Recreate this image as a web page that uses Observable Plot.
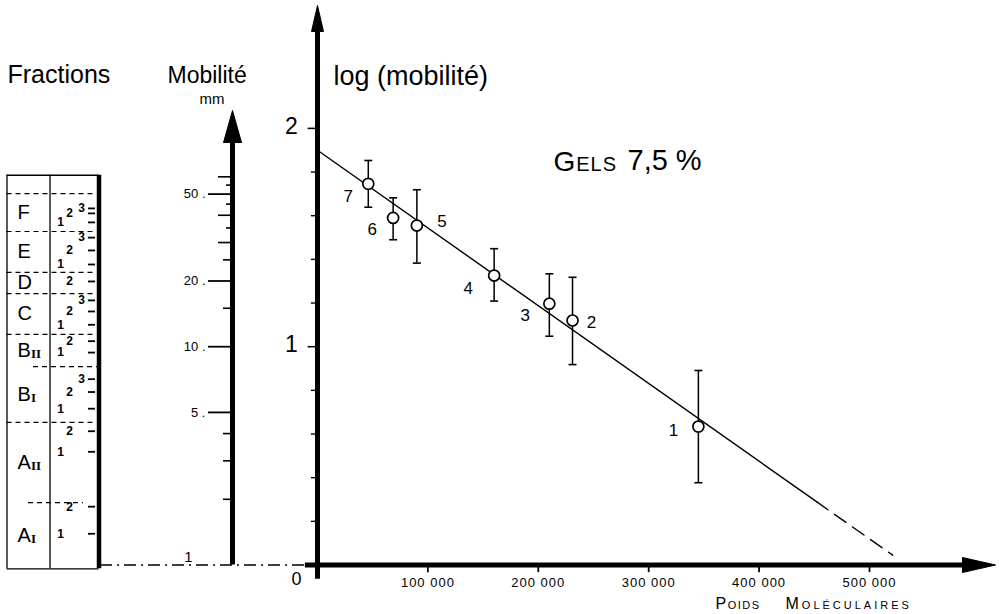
<!DOCTYPE html>
<html><head><meta charset="utf-8">
<script src="https://cdn.jsdelivr.net/npm/d3@7"></script>
<script src="https://cdn.jsdelivr.net/npm/@observablehq/plot@0.6"></script>
<style>
html,body{margin:0;padding:0;background:#fff;}
#fig{position:relative;width:1005px;height:614px;overflow:hidden;background:#fff;}
#fig svg{position:absolute;left:0;top:0;}
</style></head><body><div id="fig"></div>
<script>
// ================= DATA =================
// Main chart: molecular weight vs log(mobility), gels 7.5 %
const pointLabels = ["7", "6", "5", "4", "3", "2", "1"];
const molWeight = [46000, 68500, 90000, 160000, 210000, 231000, 345000];
const logMobility = [1.746, 1.590, 1.555, 1.326, 1.197, 1.120, 0.634];
const logMobilityHigh = [1.853, 1.682, 1.719, 1.449, 1.334, 1.318, 0.891];
const logMobilityLow = [1.639, 1.490, 1.383, 1.209, 1.048, 0.918, 0.377];
// fitted straight line (solid part, then dashed extrapolation)
const fitMW = [0, 452000, 521000];
const fitLog = [1.90, 0.29, 0.045];
const xTicks = [100000, 200000, 300000, 400000, 500000];
const xTickLabels = ["100 000", "200 000", "300 000", "400 000", "500 000"];
const yMajorTicks = [1, 2];
const yTickLabels = ["1", "2"];
const yMinorTicks = [0.2, 0.4, 0.6, 0.8, 1.2, 1.4, 1.6, 1.8];

// Mobility axis (mm, logarithmic)
const mobMajorTicks = [5, 10, 20, 50];
const mobMajorLabels = ["5 .", "10 .", "20 .", "50 ."];
const mobLongMinor = [30, 40, 60];
const mobMidMinor = [2, 3, 4, 15, 25];
const mobShortMinor = [35, 45, 55];

// Fractions gel diagram (row boundaries in mm of mobility; first row is the empty top)
const fractionBounds = [61, 50.3, 33.7, 21.9, 17.5, 11.4, 8.1, 4.5, 1.93, 0.96];
const fractionLetters = ["F", "E", "D", "C", "B", "B", "A", "A"];
const fractionIndex = ["", "", "", "", "II", "I", "II", "I"];
const bandNumber = [3, 2, 1, 3, 2, 1, 2, 3, 2, 1, 2, 1, 3, 2, 1, 2, 1, 2, 1];
const bandMobility = [43, 40.8, 37.1, 31.6, 27.6, 23.8, 19.9, 16.3, 14.5, 12.6, 10.6, 9.4, 7.1, 6.2, 5.2, 4.1, 3.3, 1.85, 1.39];

// ================= LAYOUT =================
const W = 1005, H = 614;
const X0 = 317, KX = 110.4 / 100000;   // px of MW 0, px per MW unit
const Y0 = 564.5, KY = 218.3;          // px of log 0, px per log unit
const xDom = [-X0 / KX, (W - X0) / KX];
const yDom = [(Y0 - H) / KY, Y0 / KY];
const FONT = "Liberation Sans, Arial, sans-serif";
const labelOffset = {"7": [-20, 13], "6": [-21, 12], "5": [25, -4], "4": [-26, 13], "3": [-24, 12], "2": [19, 2], "1": [-25, 4]};
const bandX = {1: 60, 2: 69, 3: 81};
const partialSep = {6: [33, 97], 8: [28, 83]};
const rowCenter = i => Math.sqrt(fractionBounds[i + 1] * fractionBounds[i + 2]);

const arrowHead = (len, half) => ({draw(ctx) { ctx.moveTo(0, 0); ctx.lineTo(half, len); ctx.lineTo(-half, len); ctx.closePath(); }});
const capSym = {draw(ctx) { ctx.moveTo(-4, 0); ctx.lineTo(4, 0); }};

const pts = pointLabels.map((label, i) => ({label, mw: molWeight[i], y: logMobility[i], hi: logMobilityHigh[i], lo: logMobilityLow[i]}));
const fit = fitMW.map((mw, i) => ({mw, y: fitLog[i]}));

const txt = (s, dx, dy, size, extra = {}) => Plot.text([s], {frameAnchor: "top-left", dx, dy, text: d => d, textAnchor: "start", lineAnchor: "bottom", fontSize: size, fill: "black", ...extra});

// ================= MAIN PLOT =================
const main = Plot.plot({
  width: W, height: H, marginLeft: 0, marginRight: 0, marginTop: 0, marginBottom: 0,
  style: {background: "transparent", overflow: "visible", fontFamily: FONT, color: "black"},
  x: {domain: xDom, axis: null},
  y: {domain: yDom, axis: null},
  marks: [
    // axes
    Plot.ruleY([0], {x1: -11000, x2: 590000, stroke: "black", strokeWidth: 5}),
    Plot.ruleX([0], {y1: -0.065, y2: 2.46, stroke: "black", strokeWidth: 5}),
    Plot.dot([{x: (995 - X0) / KX, y: 0}], {x: "x", y: "y", symbol: arrowHead(33, 7.5), rotate: 90, fill: "black", stroke: "black", strokeWidth: 1}),
    Plot.dot([{x: 0, y: (Y0 - 5) / KY}], {x: "x", y: "y", symbol: arrowHead(26, 6), fill: "black", stroke: "black", strokeWidth: 1}),
    Plot.ruleX(xTicks, {x: d => d, y1: 0, y2: -0.035, stroke: "black", strokeWidth: 1.8}),
    Plot.text(xTicks, {x: d => d, y: 0, dy: 18, text: (d, i) => xTickLabels[i], fontSize: 13, fill: "black"}),
    Plot.ruleY(yMinorTicks, {y: d => d, x1: -5500, x2: 0, stroke: "black", strokeWidth: 1.4}),
    Plot.ruleY(yMajorTicks, {y: d => d, x1: -8500, x2: 0, stroke: "black", strokeWidth: 1.6}),
    Plot.text(yMajorTicks, {x: 0, y: d => d, dx: -26, dy: -2, text: (d, i) => yTickLabels[i], fontSize: 23, fill: "black"}),
    Plot.text(["0"], {x: 0, y: 0, dx: -21, dy: 14, text: d => d, fontSize: 18, fill: "black"}),
    // fitted line
    Plot.line(fit.slice(0, 2), {x: "mw", y: "y", stroke: "black", strokeWidth: 1.4}),
    Plot.line(fit.slice(1), {x: "mw", y: "y", stroke: "black", strokeWidth: 1.4, strokeDasharray: "14,8"}),
    // error bars
    Plot.ruleX(pts, {x: "mw", y1: "lo", y2: "hi", stroke: "black", strokeWidth: 1.5}),
    Plot.dot(pts, {x: "mw", y: "hi", symbol: capSym, fill: "none", stroke: "black", strokeWidth: 1.6}),
    Plot.dot(pts, {x: "mw", y: "lo", symbol: capSym, fill: "none", stroke: "black", strokeWidth: 1.6}),
    Plot.dot(pts, {x: "mw", y: "y", r: 5.5, fill: "white", stroke: "black", strokeWidth: 1.7}),
    Plot.text(pts, {x: d => d.mw + labelOffset[d.label][0] / KX, y: d => d.y - labelOffset[d.label][1] / KY, text: "label", fontSize: 17, fill: "black"}),
    // titles
    txt("log (mobilité)", 333, 84, 27),
    txt("Gels", 553, 170, 28, {fontVariant: "small-caps"}),
    txt("7,5 %", 627, 169, 29),
    txt("Poids", 715, 608, 16, {fontVariant: "small-caps"}),
    txt("Moléculaires", 785, 608, 16, {fontVariant: "small-caps"})
  ]
});

// ================= LEFT PANELS =================
const sepInner = fractionBounds.slice(1, -1);
const bottomB = fractionBounds[fractionBounds.length - 1], topB = fractionBounds[0];
const left = Plot.plot({
  width: W, height: H, marginLeft: 0, marginRight: 0, marginTop: 0, marginBottom: 0,
  style: {background: "transparent", overflow: "visible", fontFamily: FONT, color: "black"},
  x: {domain: [0, W], range: [0, W], axis: null},
  y: {type: "log", domain: [10 ** yDom[0], 10 ** yDom[1]], range: [H, 0], axis: null},
  marks: [
    // mobility axis
    Plot.ruleX([232], {y1: 1, y2: 10 ** ((Y0 - 140) / KY), stroke: "black", strokeWidth: 5}),
    Plot.dot([{x: 232, y: 10 ** ((Y0 - 110) / KY)}], {x: "x", y: "y", symbol: arrowHead(32, 9), fill: "black", stroke: "black", strokeWidth: 1}),
    Plot.ruleY(mobMajorTicks, {y: d => d, x1: 208, x2: 232, stroke: "black", strokeWidth: 1.8}),
    Plot.ruleY(mobLongMinor, {y: d => d, x1: 218, x2: 232, stroke: "black", strokeWidth: 1.6}),
    Plot.ruleY(mobMidMinor, {y: d => d, x1: 223, x2: 232, stroke: "black", strokeWidth: 1.6}),
    Plot.ruleY(mobShortMinor, {y: d => d, x1: 226, x2: 232, stroke: "black", strokeWidth: 1.6}),
    Plot.text(mobMajorTicks, {x: 205, y: d => d, text: (d, i) => mobMajorLabels[i], textAnchor: "end", fontSize: 13, fill: "black"}),
    Plot.ruleY([1], {x1: 100, x2: 317, stroke: "black", strokeWidth: 1.5, strokeDasharray: "12,5,2,5"}),
    Plot.text(["1"], {x: 188, y: 1, dy: -8, text: d => d, fontSize: 15, fill: "black"}),
    // fractions table
    Plot.ruleX([6.5, 49.5], {y1: bottomB, y2: topB, stroke: "black", strokeWidth: 1.3}),
    Plot.ruleX([98.5], {y1: bottomB, y2: topB, stroke: "black", strokeWidth: 4.5}),
    Plot.ruleY([topB, bottomB], {x1: 6.5, x2: 98.5, stroke: "black", strokeWidth: 1.3}),
    Plot.ruleY(sepInner, {y: d => d, x1: (d, i) => (partialSep[i + 1] || [6.5, 96.5])[0], x2: (d, i) => (partialSep[i + 1] || [6.5, 96.5])[1], stroke: "black", strokeWidth: 1.2, strokeDasharray: "5,4"}),
    Plot.text(fractionLetters, {x: 17, y: (d, i) => rowCenter(i), text: d => d, textAnchor: "start", fontSize: 20, fill: "black"}),
    Plot.text(fractionIndex, {x: 30.5, y: (d, i) => rowCenter(i), dy: 3, text: d => d, textAnchor: "start", fontSize: 13, fontFamily: "Liberation Serif, serif", fontWeight: "bold", fill: "black"}),
    Plot.text(bandNumber, {x: d => bandX[d], y: (d, i) => bandMobility[i], text: d => String(d), fontSize: 12, fontWeight: "bold", fill: "black"}),
    Plot.ruleY(bandMobility, {y: d => d, x1: 88, x2: 95, stroke: "black", strokeWidth: 1.8}),
    // headers
    txt("Fractions", 7, 82, 25),
    txt("Mobilité", 167, 82, 23),
    txt("mm", 199, 103, 15)
  ]
});

// letter spacing tweaks
const spacing = {"Moléculaires": "3px", "Poids": "1.5px", "Gels": "1px"};
main.querySelectorAll("text").forEach(t => {
  const s = t.textContent;
  if (spacing[s]) t.style.letterSpacing = spacing[s];
  if (xTickLabels.includes(s)) t.style.letterSpacing = "1px";
});

const fig = document.getElementById("fig");
fig.appendChild(left);
fig.appendChild(main);
</script></body></html>
